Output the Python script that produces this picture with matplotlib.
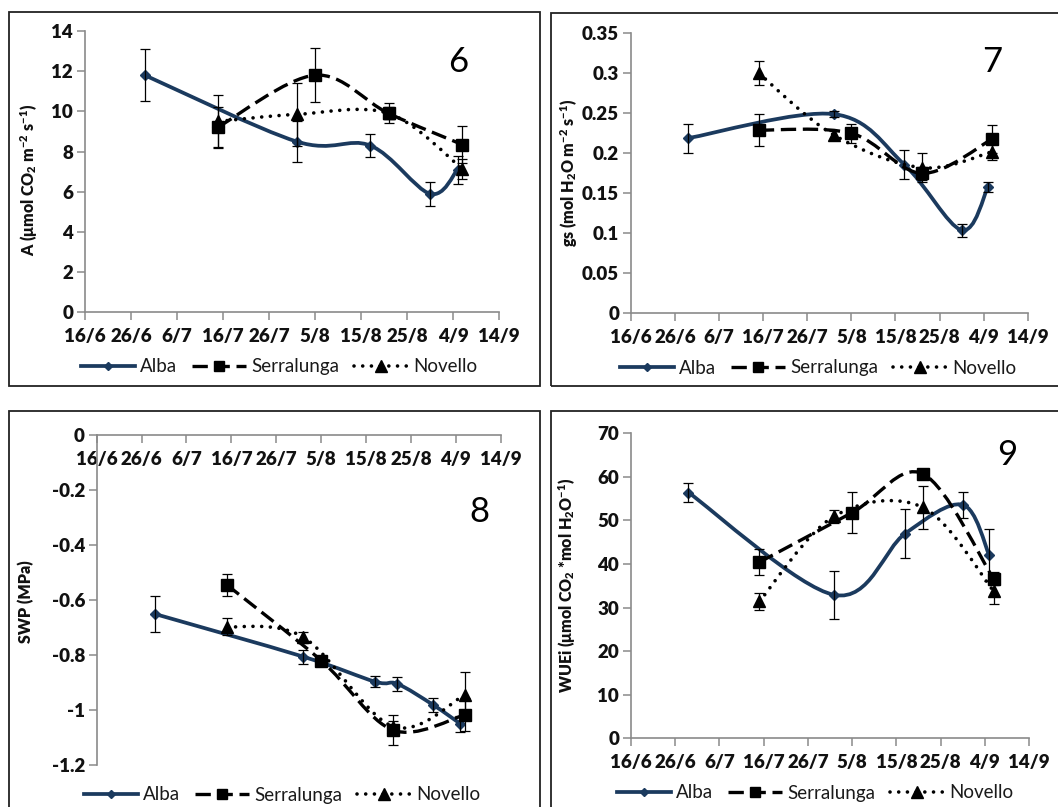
import matplotlib
matplotlib.use("Agg")
import matplotlib.pyplot as plt
from matplotlib.path import Path
from matplotlib.patches import PathPatch, Rectangle
from matplotlib.lines import Line2D
from datetime import date

plt.rcParams['font.family'] = ['Lato', 'DejaVu Sans']
plt.rcParams['axes.unicode_minus'] = False
plt.rcParams['mathtext.fontset'] = 'custom'
plt.rcParams['mathtext.rm'] = 'Lato'
plt.rcParams['mathtext.bf'] = 'Lato:heavy'
plt.rcParams['mathtext.it'] = 'Lato:italic'

# ---------------- data ----------------
x_tick_labels = ["16/6", "26/6", "6/7", "16/7", "26/7", "5/8", "15/8", "25/8", "4/9", "14/9"]
series_names = ["Alba", "Serralunga", "Novello"]

dates_alba = ["29/6", "1/8", "17/8", "30/8", "5/9"]
dates_alba_swp = ["29/6", "1/8", "17/8", "22/8", "30/8", "5/9"]
dates_serra = ["15/7", "5/8", "21/8", "6/9"]
dates_nov = ["15/7", "1/8", "21/8", "6/9"]

# Panel 6: A
alba_A = [11.8, 8.5, 8.3, 5.9, 7.1]
alba_A_err = [1.3, 1.0, 0.55, 0.6, 0.7]
serra_A = [9.23, 11.8, 9.9, 8.35]
serra_A_err = [1.0, 1.33, 0.5, 0.9]
nov_A = [9.5, 9.85, 9.9, 7.15]
nov_A_err = [1.3, 1.55, 0.3, 0.5]

# Panel 7: gs
alba_gs = [0.219, 0.249, 0.186, 0.104, 0.158]
alba_gs_err = [0.018, 0.004, 0.018, 0.008, 0.006]
serra_gs = [0.229, 0.225, 0.175, 0.218]
serra_gs_err = [0.02, 0.012, 0.008, 0.018]
nov_gs = [0.30, 0.223, 0.182, 0.202]
nov_gs_err = [0.015, 0.005, 0.018, 0.01]

# Panel 8: SWP
alba_swp = [-0.651, -0.806, -0.897, -0.905, -0.982, -1.05]
alba_swp_err = [0.067, 0.025, 0.02, 0.025, 0.025, 0.03]
serra_swp = [-0.545, -0.82, -1.073, -1.018]
serra_swp_err = [0.04, 0.01, 0.055, 0.06]
nov_swp = [-0.697, -0.735, -1.06, -0.945]
nov_swp_err = [0.03, 0.02, 0.02, 0.085]

# Panel 9: WUEi
alba_w = [56.4, 32.9, 47.0, 53.6, 42.1]
alba_w_err = [2.2, 5.5, 5.6, 3.0, 6.0]
serra_w = [40.4, 51.8, 60.7, 36.6]
serra_w_err = [3.0, 4.7, 0.8, 1.5]
nov_w = [31.4, 51.0, 53.0, 33.8]
nov_w_err = [2.0, 1.5, 5.0, 3.0]

yticks_A = [0, 2, 4, 6, 8, 10, 12, 14]
yticks_gs = [0, 0.05, 0.1, 0.15, 0.2, 0.25, 0.3, 0.35]
ytick_labels_gs = ["0", "0.05", "0.1", "0.15", "0.2", "0.25", "0.3", "0.35"]
yticks_swp = [0, -0.2, -0.4, -0.6, -0.8, -1, -1.2]
ytick_labels_swp = ["0", "-0.2", "-0.4", "-0.6", "-0.8", "-1", "-1.2"]
yticks_w = [0, 10, 20, 30, 40, 50, 60, 70]

# ---------------- helpers ----------------
ORIGIN = date(2012, 6, 16)


def day(s):
    d, m = map(int, s.split("/"))
    return (date(2012, m, d) - ORIGIN).days


def smooth_path(xs, ys):
    pts = list(zip(xs, ys))
    n = len(pts)
    verts = [pts[0]]
    codes = [Path.MOVETO]
    for i in range(n - 1):
        p0 = pts[i - 1] if i > 0 else pts[i]
        p1 = pts[i]
        p2 = pts[i + 1]
        p3 = pts[i + 2] if i + 2 < n else pts[i + 1]
        c1 = (p1[0] + (p2[0] - p0[0]) / 6.0, p1[1] + (p2[1] - p0[1]) / 6.0)
        c2 = (p2[0] - (p3[0] - p1[0]) / 6.0, p2[1] - (p3[1] - p1[1]) / 6.0)
        verts += [c1, c2, p2]
        codes += [Path.CURVE4] * 3
    return Path(verts, codes)


NAVY = "#1b3a5e"
GRAY = "#8a8a8a"
TXT = "#111111"

STYLES = {
    "Alba": dict(color=NAVY, lw=2.7, ls="-", marker="D", ms=5, cap="round"),
    "Serralunga": dict(color="black", lw=2.4, ls=(0, (4.6, 2.0)), marker="s", ms=8.5, cap="butt"),
    "Novello": dict(color="black", lw=2.6, ls=(0, (0.01, 2.4)), marker="^", ms=9, cap="round"),
}

W, H = 1058, 807
fig = plt.figure(figsize=(W / 100, H / 100), dpi=100)


def px_axes(left, top, right, bottom):
    return fig.add_axes([left / W, 1 - bottom / H, (right - left) / W, (bottom - top) / H])


# panel frames
for (l, t, r, b) in [(9, 12, 540, 386), (551, 13, 1070, 386), (9, 411, 540, 820), (551, 411, 1070, 820)]:
    fig.patches.append(Rectangle((l / W, 1 - b / H), (r - l) / W, (b - t) / H,
                                 transform=fig.transFigure, fill=False,
                                 edgecolor="#222222", lw=1.3, zorder=0))


def draw_series(ax, name, dates, vals, errs, z):
    st = STYLES[name]
    xs = [day(d) for d in dates]
    patch = PathPatch(smooth_path(xs, vals), fill=False, edgecolor=st["color"],
                      lw=st["lw"], linestyle=st["ls"], zorder=z, clip_on=False)
    patch.set_capstyle(st["cap"])
    ax.add_patch(patch)
    ax.errorbar(xs, vals, yerr=errs, fmt="none", ecolor="black", elinewidth=0.9,
                capsize=3.6, capthick=0.9, zorder=z + 0.2, clip_on=False)
    ax.plot(xs, vals, ls="none", marker=st["marker"], ms=st["ms"], color=st["color"],
            zorder=z + 0.1, clip_on=False)


def legend_handles():
    hs = []
    for name in series_names:
        st = STYLES[name]
        h = Line2D([], [], color=st["color"], lw=st["lw"], ls=st["ls"], marker=st["marker"],
                   ms=st["ms"] * 0.9, dash_capstyle=st["cap"])
        hs.append(h)
    return hs


def setup_axes(ax, yticks, ylabels, ylim, ylabel, ylabel_xy, num, num_xy, leg_xy, top_axis=False):
    ax.set_xlim(0, 90)
    ax.set_ylim(*ylim)
    ax.set_xticks([day(t) for t in x_tick_labels])
    ax.set_xticklabels(x_tick_labels)
    ax.set_yticks(yticks)
    ax.set_yticklabels(ylabels)
    for s in ["top", "right"]:
        ax.spines[s].set_visible(False)
    for s in ["left", "bottom"]:
        ax.spines[s].set_color(GRAY)
        ax.spines[s].set_linewidth(1.2)
    if top_axis:
        ax.spines["bottom"].set_position(("data", 0))
    ax.tick_params(axis="both", colors=GRAY, length=5.5, width=1.1, direction="out",
                   labelcolor=TXT, labelsize=13.5, pad=3)
    ax.tick_params(axis="x", pad=6)
    for lab in ax.get_xticklabels() + ax.get_yticklabels():
        lab.set_fontweight("heavy")
    ax.set_ylabel(ylabel, fontsize=11.5, fontweight="heavy", color=TXT)
    ax.yaxis.set_label_coords(*ylabel_xy)
    ax.patch.set_alpha(0)
    fig.text(num_xy[0] / W, 1 - num_xy[1] / H, num, fontsize=25, ha="center", va="center", color="black")
    leg = ax.legend(legend_handles(), series_names, loc="center",
                    bbox_to_anchor=(leg_xy[0] / W, 1 - leg_xy[1] / H), bbox_transform=fig.transFigure,
                    ncol=3, frameon=False, fontsize=13.5, handlelength=2.9, handletextpad=0.25,
                    columnspacing=0.8, numpoints=1, borderpad=0, borderaxespad=0)
    for t in leg.get_texts():
        t.set_color("#1a1a1a")


# Panel 6
ax1 = px_axes(85, 31, 499, 312.3)
draw_series(ax1, "Alba", dates_alba, alba_A, alba_A_err, 3)
draw_series(ax1, "Serralunga", dates_serra, serra_A, serra_A_err, 4)
draw_series(ax1, "Novello", dates_nov, nov_A, nov_A_err, 5)
setup_axes(ax1, yticks_A, [str(v) for v in yticks_A], (0, 14),
           r"A ($\mathbf{\mu}$mol CO$_\mathbf{2}$ m$^\mathbf{-2}$ s$^\mathbf{-1}$)",
           (-0.112, 0.47), "6", (458, 62), (279, 367))

# Panel 7
ax2 = px_axes(631, 33.3, 1027.7, 313.3)
draw_series(ax2, "Alba", dates_alba, alba_gs, alba_gs_err, 3)
draw_series(ax2, "Serralunga", dates_serra, serra_gs, serra_gs_err, 4)
draw_series(ax2, "Novello", dates_nov, nov_gs, nov_gs_err, 5)
setup_axes(ax2, yticks_gs, ytick_labels_gs, (0, 0.35),
           r"gs (mol H$_\mathbf{2}$O m$^\mathbf{-2}$ s$^\mathbf{-1}$)",
           (-0.13, 0.5), "7", (992, 62), (818, 368))

# Panel 8
ax3 = px_axes(96.7, 435, 500.7, 765)
draw_series(ax3, "Alba", dates_alba_swp, alba_swp, alba_swp_err, 3)
draw_series(ax3, "Serralunga", dates_serra, serra_swp, serra_swp_err, 4)
draw_series(ax3, "Novello", dates_nov, nov_swp, nov_swp_err, 5)
setup_axes(ax3, yticks_swp, ytick_labels_swp, (-1.2, 0), "SWP (MPa)",
           (-0.155, 0.494), "8", (479, 512), (282, 795), top_axis=True)

# Panel 9
ax4 = px_axes(631, 433.3, 1029, 738.3)
draw_series(ax4, "Alba", dates_alba, alba_w, alba_w_err, 3)
draw_series(ax4, "Serralunga", dates_serra, serra_w, serra_w_err, 4)
draw_series(ax4, "Novello", dates_nov, nov_w, nov_w_err, 5)
setup_axes(ax4, yticks_w, [str(v) for v in yticks_w], (0, 70),
           r"WUEi ($\mathbf{\mu}$mol CO$_\mathbf{2}$ *mol H$_\mathbf{2}$O$^\mathbf{-1}$)",
           (-0.135, 0.5), "9", (1007, 455), (815, 793))

fig.savefig("out.png", dpi=100)
